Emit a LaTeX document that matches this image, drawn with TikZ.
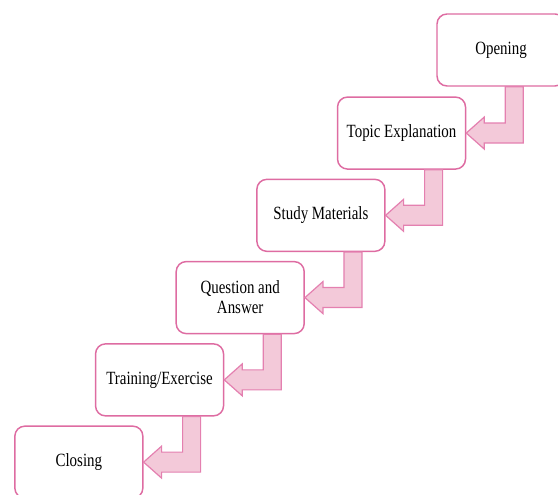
\documentclass[tikz,border=0pt]{standalone}
\usepackage{fontspec}
\setmainfont{Liberation Serif}[FakeStretch=0.8]
\usetikzlibrary{positioning, calc}
\definecolor{stepLine}{RGB}{222,108,162}
\definecolor{arrowFill}{RGB}{243,201,217}
\definecolor{arrowLine}{RGB}{228,128,176}
\tikzset{
    % Boxes
    stepbox/.style={rectangle, draw=stepLine, fill=white, line width=1.1pt,
                    rounded corners=7.5pt, minimum width=96pt, minimum height=54pt,
                    align=center, font=\fontsize{14}{15}\selectfont},
    % Bent block arrows
    stairArrow/.style={fill=arrowFill, draw=arrowLine, line width=0.9pt, line join=miter}
}
% bent arrow from the bottom of #1 to the east side of #2
\newcommand{\stairarrow}[2]{%
  \coordinate (tip) at (#2.east);
  \coordinate (top) at (#1.south);
  \filldraw[stairArrow] (tip) -- ++(18,-16) -- ++(0,6) -- ++(21,0) coordinate (a)
    -- (a |- top) -- ++(18,0) coordinate (b) -- (b |- tip) -- ++(0,10)
    -- ++(-39,0) -- ++(0,6) -- cycle;
}

\begin{document}
\begin{tikzpicture}[x=0.75pt, y=-0.75pt, node distance=6.6pt and -36.6pt]

\path[use as bounding box, clip] (0,0) rectangle (558,495);

\node[stepbox] (open) at (501,50) {Opening};
\node[stepbox, below left=7.2pt and -22.5pt of open] (topic) {Topic Explanation};
\node[stepbox, below left=of topic] (study) {Study Materials};
\node[stepbox, below left=of study] (qa) {Question and\\Answer};
\node[stepbox, below left=of qa] (train) {Training/Exercise};
\node[stepbox, below left=of train] (close) {Closing};

\stairarrow{open}{topic}
\stairarrow{topic}{study}
\stairarrow{study}{qa}
\stairarrow{qa}{train}
\stairarrow{train}{close}

\end{tikzpicture}
\end{document}
